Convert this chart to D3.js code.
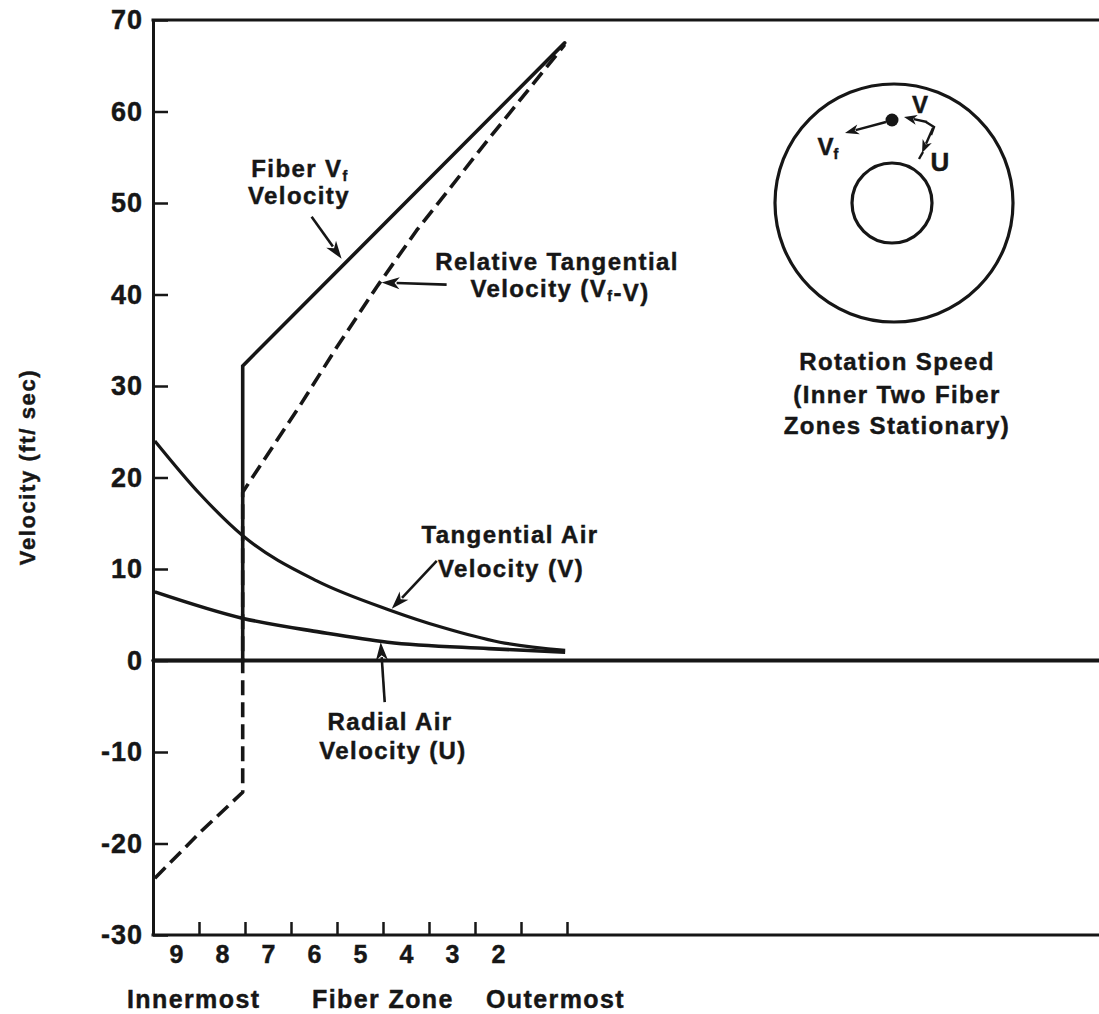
<!DOCTYPE html>
<html>
<head>
<meta charset="utf-8">
<script src="https://cdn.jsdelivr.net/npm/d3@7"></script>
<style>
  body { margin: 0; background: #fff; }
  svg { display: block; }
  text {
    font-family: "Liberation Sans", Arial, Helvetica, sans-serif;
    font-weight: bold;
    fill: #161616;
    stroke: #161616;
    stroke-width: 0.45px;
  }
</style>
</head>
<body>
<svg id="chart" width="1099" height="1014"></svg>
<script>
// Fiber zones (9 = innermost) and their boundaries along the radius
const zoneLabels = [9, 8, 7, 6, 5, 4, 3, 2];
const zoneBoundaries = [8.5, 7.5, 6.5, 5.5, 4.5, 3.5, 2.5, 1.5, 0.5];
const velocityTicks = [70, 60, 50, 40, 30, 20, 10, 0, -10, -20, -30];

// Fiber velocity Vf (inner two zones stationary)
const fiberZone = [9.5, 7.55, 7.55, 0.55];
const fiberVelocity = [0, 0, 32.2, 67.5];

// Relative tangential velocity (Vf - V)
const relativeZone = [9.46, 8.48, 7.55, 7.55, 6.30, 5.51, 4.64, 3.77, 2.17, 0.55];
const relativeVelocity = [-23.8, -18.8, -14.4, 18.4, 27.9, 34.2, 40.8, 47.0, 57.2, 67.3];

// Tangential air velocity V
const tangentialZone = [9.46, 8.48, 7.54, 5.94, 4.35, 3.2, 1.96, 0.54];
const tangentialVelocity = [24.0, 18.2, 13.6, 8.7, 5.5, 3.6, 2.0, 1.1];

// Radial air velocity U
const radialZone = [9.46, 7.54, 5.87, 4.4, 2.2, 0.54];
const radialVelocity = [7.5, 4.6, 3.1, 2.0, 1.3, 0.9];

const W = 1099, H = 1014;
const plotLeft = 153, plotTop = 20, plotBottom = 935;
const ink = "#161616";

const svg = d3.select("#chart");
svg.append("rect").attr("width", W).attr("height", H).attr("fill", "#fff");

const x = d3.scaleLinear().domain([9.5, 0.5]).range([plotLeft, 567]);
const y = d3.scaleLinear().domain([-30, 70]).range([plotBottom, plotTop]);

// ---- frame and axes ----
const frame = svg.append("g").attr("stroke", ink).attr("stroke-width", 3).attr("fill", "none");
frame.append("line").attr("x1", plotLeft - 1.5).attr("x2", W).attr("y1", y(70)).attr("y2", y(70));
frame.append("line").attr("x1", plotLeft - 1.5).attr("x2", W).attr("y1", y(-30)).attr("y2", y(-30));

const yAxis = svg.append("g")
  .attr("transform", `translate(${plotLeft},0)`)
  .call(d3.axisLeft(y).tickValues(velocityTicks).tickSizeInner(-15).tickSizeOuter(0).tickPadding(10)
    .tickFormat(d => d));
yAxis.attr("font-family", null).attr("font-size", null);
yAxis.select(".domain").attr("stroke", ink).attr("stroke-width", 3);
yAxis.selectAll(".tick line").attr("stroke", ink).attr("stroke-width", 2.5);
yAxis.selectAll(".tick text")
  .attr("font-size", 27).attr("letter-spacing", 1).attr("fill", ink);

const xTicks = svg.append("g")
  .attr("transform", `translate(0,${plotBottom})`)
  .call(d3.axisBottom(x).tickValues(zoneBoundaries).tickSizeInner(-13).tickSizeOuter(0).tickFormat(""));
xTicks.select(".domain").remove();
xTicks.selectAll(".tick line").attr("stroke", ink).attr("stroke-width", 2.5);

const xLabels = svg.append("g")
  .attr("transform", `translate(0,${plotBottom})`)
  .call(d3.axisBottom(x).tickValues(zoneLabels).tickSize(0).tickPadding(10).tickFormat(d => d));
xLabels.select(".domain").remove();
xLabels.attr("font-family", null).attr("font-size", null);
xLabels.selectAll(".tick text").attr("font-size", 25).attr("fill", ink)
  .attr("dy", "0.71em");

// axis titles
svg.append("text")
  .attr("transform", `translate(35,467) rotate(-90)`)
  .attr("text-anchor", "middle").attr("font-size", 22).attr("letter-spacing", 1.6)
  .text("Velocity (ft/ sec)");

const xTitle = svg.append("g").attr("font-size", 25).attr("letter-spacing", 1.4);
xTitle.append("text").attr("x", 127).attr("y", 1008).text("Innermost");
xTitle.append("text").attr("x", 312).attr("y", 1008).text("Fiber Zone");
xTitle.append("text").attr("x", 486).attr("y", 1008).text("Outermost");

// ---- curves ----
const lineLinear = d3.line().x(d => x(d[0])).y(d => y(d[1]));
const lineSmooth = d3.line().x(d => x(d[0])).y(d => y(d[1])).curve(d3.curveMonotoneX);
const zip = (a, b) => a.map((v, i) => [v, b[i]]);

// zero line
svg.append("line")
  .attr("x1", plotLeft).attr("x2", W).attr("y1", y(0)).attr("y2", y(0))
  .attr("stroke", ink).attr("stroke-width", 4);

svg.append("path").datum(zip(tangentialZone, tangentialVelocity))
  .attr("d", lineSmooth).attr("fill", "none").attr("stroke", ink).attr("stroke-width", 3.2);

svg.append("path").datum(zip(radialZone, radialVelocity))
  .attr("d", lineSmooth).attr("fill", "none").attr("stroke", ink).attr("stroke-width", 3.6);

svg.append("path").datum(zip(relativeZone, relativeVelocity))
  .attr("d", lineLinear).attr("fill", "none").attr("stroke", ink).attr("stroke-width", 3.6)
  .attr("stroke-dasharray", "15,7").attr("stroke-linejoin", "round");

svg.append("path").datum(zip(fiberZone, fiberVelocity))
  .attr("d", lineLinear).attr("fill", "none").attr("stroke", ink).attr("stroke-width", 3.6)
  .attr("stroke-linejoin", "miter").attr("stroke-linecap", "round");

// ---- arrows & labels ----
function arrow(g, x1, y1, x2, y2, w, headLen, headW) {
  const a = Math.atan2(y2 - y1, x2 - x1);
  const bx = x2 - Math.cos(a) * (headLen - 3), by = y2 - Math.sin(a) * (headLen - 3);
  g.append("line").attr("x1", x1).attr("y1", y1).attr("x2", bx).attr("y2", by)
    .attr("stroke", ink).attr("stroke-width", w);
  const px = -Math.sin(a), py = Math.cos(a);
  const rx = x2 - Math.cos(a) * headLen, ry = y2 - Math.sin(a) * headLen;
  const nx = x2 - Math.cos(a) * (headLen * 0.72), ny = y2 - Math.sin(a) * (headLen * 0.72);
  g.append("path")
    .attr("d", `M${x2},${y2}L${rx + px * headW},${ry + py * headW}L${nx},${ny}L${rx - px * headW},${ry - py * headW}Z`)
    .attr("fill", ink);
}

function label(g, cx, yb, parts, size, anchor) {
  const t = g.append("text").attr("x", cx).attr("y", yb)
    .attr("text-anchor", anchor || "middle").attr("font-size", size).attr("letter-spacing", 1.4);
  parts.forEach(p => {
    if (typeof p === "string") t.append("tspan").text(p);
    else {
      t.append("tspan").attr("font-size", size * 0.6).attr("dy", 4).text(p.sub);
      t.append("tspan").attr("dy", -4).text("");
    }
  });
  return t;
}

const ann = svg.append("g");
// pointer tips placed on the curves, in data units
const tipFiber = [5.40, 43.9], tipRel = [4.53, 41.3], tipTan = [4.31, 5.65], tipRad = [4.55, 2.0];

label(ann, 300, 177, ["Fiber V", {sub: "f"}], 24);
label(ann, 299, 204, ["Velocity"], 24);
arrow(ann, x(tipFiber[0]) - 30, y(tipFiber[1]) - 42, x(tipFiber[0]), y(tipFiber[1]), 2.6, 18, 6);

label(ann, 557, 270, ["Relative Tangential"], 24);
label(ann, 560, 297, ["Velocity (V", {sub: "f"}, "-V)"], 24);
arrow(ann, x(tipRel[0]) + 65, y(tipRel[1]) + 2, x(tipRel[0]), y(tipRel[1]), 2.6, 18, 6);

label(ann, 510, 543, ["Tangential Air"], 24);
label(ann, 511, 577, ["Velocity (V)"], 24);
arrow(ann, x(tipTan[0]) + 45, y(tipTan[1]) - 48, x(tipTan[0]), y(tipTan[1]), 2.6, 18, 6);

label(ann, 390, 730, ["Radial Air"], 24);
label(ann, 393, 759, ["Velocity (U)"], 24);
arrow(ann, x(tipRad[0]) + 4, y(tipRad[1]) + 60, x(tipRad[0]), y(tipRad[1]), 2.6, 18, 6);

// ---- rotation inset ----
const cx = 894, cy = 203;
const inset = svg.append("g");
inset.append("circle").attr("cx", cx).attr("cy", cy).attr("r", 119)
  .attr("fill", "none").attr("stroke", ink).attr("stroke-width", 3.2);
inset.append("circle").attr("cx", cx - 2).attr("cy", cy).attr("r", 40)
  .attr("fill", "none").attr("stroke", ink).attr("stroke-width", 3.2);
inset.append("circle").attr("cx", cx - 2).attr("cy", cy - 83).attr("r", 6.5).attr("fill", ink);

// Vf pointer
arrow(inset, cx - 8, cy - 81, cx - 49, cy - 70, 2.4, 14, 5);
// V pointer
arrow(inset, cx + 33, cy - 81, cx + 10, cy - 86, 2.4, 13, 5);
inset.append("polyline")
  .attr("points", `${cx + 32},${cy - 81} ${cx + 40},${cy - 76} ${cx + 37},${cy - 68}`)
  .attr("fill", "none").attr("stroke", ink).attr("stroke-width", 2.4);
// U pointer
arrow(inset, cx + 39, cy - 75, cx + 28, cy - 50, 2.4, 13, 5);
inset.append("line").attr("x1", cx + 29).attr("y1", cy - 51).attr("x2", cx + 25).attr("y2", cy - 44)
  .attr("stroke", ink).attr("stroke-width", 2.4);

label(inset, cx + 26, cy - 90, ["V"], 24).attr("letter-spacing", 0);
label(inset, cx - 66, cy - 48, ["V", {sub: "f"}], 24).attr("letter-spacing", 0);
label(inset, cx + 46, cy - 32, ["U"], 26).attr("letter-spacing", 0);

label(inset, cx + 3, 370, ["Rotation Speed"], 24);
label(inset, cx + 3, 403, ["(Inner Two Fiber"], 24);
label(inset, cx + 3, 434, ["Zones Stationary)"], 24);
</script>
</body>
</html>
